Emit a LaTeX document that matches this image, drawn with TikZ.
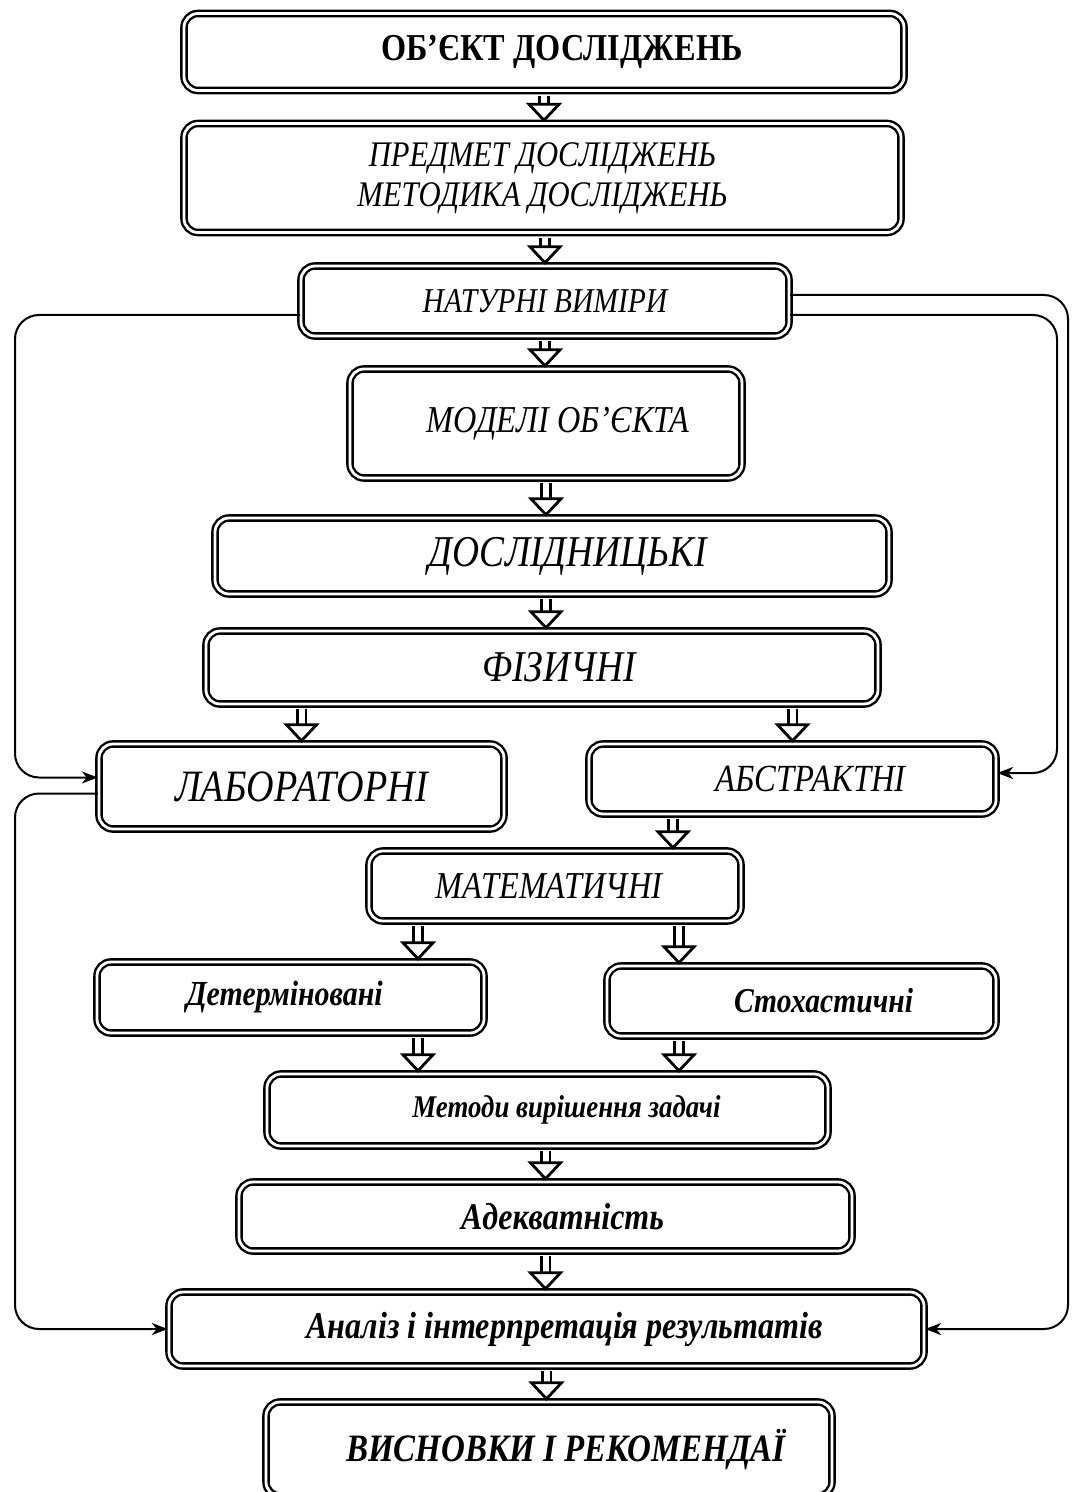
\documentclass[tikz,border=0pt]{standalone}
\usepackage{fontspec}
\setmainfont{Liberation Serif}[FakeStretch=0.85]
\usetikzlibrary{calc,arrows.meta}

\newcommand{\fsz}[1]{\fontsize{#1}{1.2\dimexpr#1pt\relax}\selectfont}
% hollow double arrow between two points
\newcommand{\harrow}[2]{%
  \draw[hshaft] ($#1+(0,4)$) -- ($#2+(0,-16)$);
  \draw[hhead] ($#2+(-15,-18)$) -- ($#2+(0,-2)$) -- ($#2+(15,-18)$) -- cycle;
}

\tikzset{
  box/.style={draw, double, line width=1.2pt, double distance=1.4pt,
    rounded corners=7pt, align=center, inner sep=0pt},
  hshaft/.style={double, line width=1.4pt, double distance=3pt},
  hhead/.style={draw, line width=1.4pt, fill=white, line join=miter},
  side/.style={line width=1pt, rounded corners=12pt,
    -{Stealth[length=8pt,width=6pt,inset=2.5pt]}}
}

\begin{document}
\begin{tikzpicture}[x=0.5pt,y=-0.5pt]
  \useasboundingbox (0,0) rectangle (1072,1492);

  \node[box, minimum width=360pt, minimum height=38.5pt] (obj) at (544,52)
    {\fsz{19}\bfseries\hspace*{18pt}ОБ’ЄКТ ДОСЛІДЖЕНЬ};
  \node[box, minimum width=358.5pt, minimum height=54.5pt,
    font={\fontsize{18}{20}\selectfont\itshape}] (subj) at (542.5,178)
    {ПРЕДМЕТ ДОСЛІДЖЕНЬ\\МЕТОДИКА ДОСЛІДЖЕНЬ};
  \node[box, minimum width=244pt, minimum height=35pt] (nat) at (545,301)
    {\fsz{17.4}\itshape НАТУРНІ ВИМІРИ};
  \node[box, minimum width=196pt, minimum height=54.5pt] (mod) at (546,423.5)
    {\fsz{19}\itshape\hspace*{12pt}МОДЕЛІ ОБ’ЄКТА};
  \node[box, minimum width=337pt, minimum height=38pt] (res) at (552,556)
    {\fsz{22}\itshape\hspace*{16pt}ДОСЛІДНИЦЬКІ};
  \node[box, minimum width=336pt, minimum height=36.5pt] (phys) at (542,667.5)
    {\fsz{22}\itshape\hspace*{17pt}ФІЗИЧНІ};
  \node[box, minimum width=202.5pt, minimum height=42.5pt] (lab) at (301.5,786.5)
    {\fsz{22.4}\itshape ЛАБОРАТОРНІ};
  \node[box, minimum width=203.5pt, minimum height=35pt] (abs) at (792.5,779)
    {\fsz{19.2}\itshape\hspace*{18pt}АБСТРАКТНІ};
  \node[box, minimum width=186pt, minimum height=35pt] (math) at (555,886)
    {\fsz{19}\itshape МАТЕМАТИЧНІ\hspace*{6pt}};
  \node[box, minimum width=193.5pt, minimum height=35.5pt] (det) at (290.5,997.5)
    {\fsz{17.6}\bfseries\itshape Детерміновані\hspace*{6pt}};
  \node[box, minimum width=194.5pt, minimum height=35pt] (stoch) at (801.5,1001)
    {\fsz{17.4}\bfseries\itshape\hspace*{22pt}Стохастичні};
  \node[box, minimum width=280.5pt, minimum height=36pt] (meth) at (547.5,1110)
    {\fsz{15.8}\bfseries\itshape\hspace*{19pt}Методи вирішення задачі};
  \node[box, minimum width=306.5pt, minimum height=34.5pt] (adeq) at (545.5,1216.5)
    {\fsz{18.8}\bfseries\itshape\hspace*{17pt}Адекватність};
  \node[box, minimum width=377.5pt, minimum height=37pt] (anal) at (546.5,1329)
    {\fsz{18.9}\bfseries\itshape\hspace*{18pt}Аналіз і інтерпретація результатів};
  \node[box, minimum width=283pt, minimum height=47pt] (concl) at (549,1449)
    {\fsz{19.4}\bfseries\itshape\hspace*{17pt}ВИСНОВКИ І РЕКОМЕНДАЇ};

  \coordinate (cA) at (673,0);
  \coordinate (cL) at (418,0);
  \coordinate (cR) at (679,0);
  \coordinate (colL) at (15,0);
  \coordinate (colR1) at (1068,0);
  \coordinate (colR2) at (1057,0);

  \harrow{(obj.south)}{(obj.south |- subj.north)}
  \harrow{(subj.south -| nat.north)}{(nat.north)}
  \harrow{(nat.south)}{(nat.south |- mod.north)}
  \harrow{(mod.south)}{(mod.south |- res.north)}
  \harrow{(mod.south |- res.south)}{(mod.south |- phys.north)}
  \harrow{(phys.south -| lab.north)}{(lab.north)}
  \harrow{(phys.south -| abs.north)}{(abs.north)}
  \harrow{(abs.south -| cA)}{(math.north -| cA)}
  \harrow{(math.south -| cL)}{(det.north -| cL)}
  \harrow{(math.south -| cR)}{(stoch.north -| cR)}
  \harrow{(det.south -| cL)}{(meth.north -| cL)}
  \harrow{(stoch.south -| cR)}{(meth.north -| cR)}
  \harrow{(meth.south -| adeq.north)}{(adeq.north)}
  \harrow{(adeq.south)}{(adeq.south |- anal.north)}
  \harrow{(anal.south)}{(anal.south |- concl.north)}

  % side links
  \coordinate (labin) at ($(lab.west)+(0,-9)$);
  \coordinate (absin) at ($(abs.east)+(0,-6)$);
  \draw[side] ($(nat.west)+(0,14)$) -| (colL |- labin) -- (labin);
  \draw[side] ($(lab.west)+(0,7)$) -| (colL |- anal.west) -- (anal.west);
  \draw[side] ($(nat.east)+(0,-6)$) -| (colR1 |- anal.east) -- (anal.east);
  \draw[side] ($(nat.east)+(0,14)$) -| (colR2 |- absin) -- (absin);
\end{tikzpicture}
\end{document}
